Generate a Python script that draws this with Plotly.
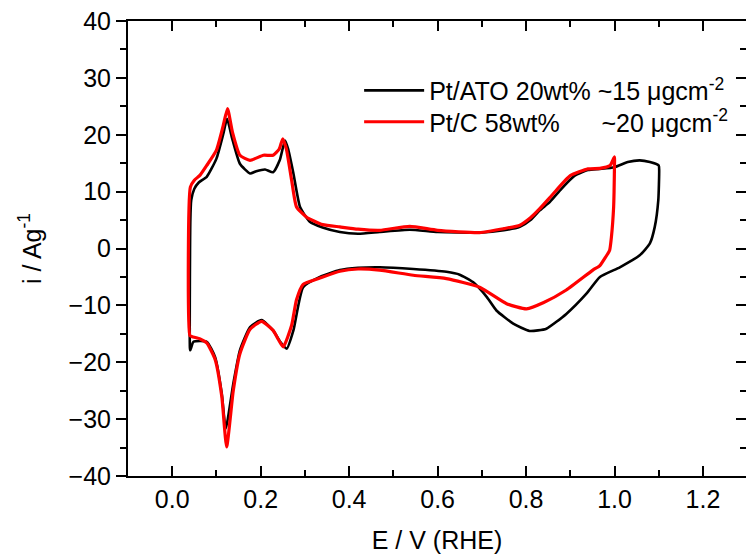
import plotly.graph_objects as go

# Cyclic voltammograms: potential E (V vs RHE) and mass-specific current i (A/g)
# Pt/ATO 20wt%: anodic sweep from 0.04 V to 1.1 V, then cathodic sweep back
ato_E = [0.040, 0.041, 0.043, 0.050, 0.060, 0.078, 0.100, 0.115, 0.124, 0.135,
         0.153, 0.176, 0.190, 0.210, 0.228, 0.243, 0.255, 0.262, 0.274, 0.289,
         0.311, 0.340, 0.379, 0.420, 0.469, 0.537, 0.600, 0.695, 0.750, 0.786,
         0.810, 0.831, 0.854, 0.880, 0.910, 0.940, 0.967, 1.000, 1.030, 1.057,
         1.080, 1.100,
         1.101, 1.099, 1.091, 1.080, 1.057, 1.012, 0.967, 0.937, 0.891, 0.846,
         0.808, 0.771, 0.733, 0.711, 0.680, 0.650, 0.620, 0.545, 0.469, 0.420,
         0.379, 0.334, 0.296, 0.274, 0.259, 0.245, 0.228, 0.202, 0.176, 0.153,
         0.138, 0.121, 0.112, 0.097, 0.078, 0.048, 0.041, 0.040]
ato_i = [-17.5, 5.0, 8.5, 10.5, 11.6, 12.6, 15.8, 20.0, 22.8, 19.5,
         14.9, 13.2, 13.6, 13.9, 13.4, 15.5, 19.0, 17.5, 13.2, 7.3,
         4.7, 3.7, 2.9, 2.6, 2.9, 3.3, 2.9, 2.8, 3.2, 3.8,
         5.0, 6.7, 8.2, 10.5, 12.8, 13.8, 14.0, 14.3, 15.2, 15.5,
         15.2, 14.6,
         13.7, 8.5, 3.8, 0.9, -1.2, -3.3, -5.0, -7.9, -11.5, -14.1,
         -14.5, -13.2, -10.9, -8.5, -5.9, -4.6, -4.1, -3.6, -3.3, -3.4,
         -3.8, -5.0, -6.8, -14.4, -17.6, -16.5, -14.4, -12.6, -13.8, -17.9,
         -23.8, -31.7, -25.5, -19.1, -16.4, -16.4, -17.9, -17.5]

# Pt/C 58wt%: anodic sweep from 0.04 V to 1.0 V, then cathodic sweep back
ptc_E = [0.040, 0.041, 0.050, 0.063, 0.078, 0.100, 0.115, 0.125, 0.136, 0.153,
         0.176, 0.206, 0.228, 0.242, 0.250, 0.258, 0.270, 0.281, 0.304, 0.340,
         0.379, 0.420, 0.469, 0.537, 0.600, 0.695, 0.750, 0.786, 0.810, 0.831,
         0.860, 0.900, 0.940, 0.967, 0.990, 1.000,
         1.000, 0.999, 0.998, 0.993, 0.989, 0.980, 0.967, 0.951, 0.891, 0.840,
         0.801, 0.756, 0.695, 0.620, 0.545, 0.469, 0.420, 0.379, 0.334, 0.296,
         0.281, 0.270, 0.251, 0.240, 0.228, 0.202, 0.176, 0.153, 0.138, 0.123,
         0.112, 0.097, 0.078, 0.063, 0.045, 0.040]
ptc_i = [-15.3, 10.8, 12.0, 12.9, 14.6, 17.3, 21.5, 24.6, 20.5, 16.4,
         15.5, 16.4, 16.4, 17.5, 19.3, 17.5, 12.0, 7.3, 5.5, 4.2,
         3.8, 3.4, 3.2, 3.9, 3.2, 2.8, 3.5, 4.1, 5.4, 7.0,
         9.5, 12.8, 14.0, 14.1, 14.6, 16.1,
         15.0, 10.0, 7.3, 2.0, -0.3, -1.5, -3.0, -3.8, -7.3, -9.5,
         -10.6, -9.7, -6.8, -5.3, -4.7, -3.8, -3.6, -4.0, -5.2, -6.3,
         -9.0, -13.5, -17.3, -16.0, -14.4, -12.8, -14.2, -18.5, -25.0, -34.9,
         -26.0, -19.5, -16.6, -15.9, -15.5, -15.3]

series_names = ["Pt/ATO 20wt% ~15 μgcm<sup>-2</sup>",
                "Pt/C 58wt%\u00a0\u00a0\u00a0\u00a0\u00a0\u00a0~20 μgcm<sup>-2</sup>"]

FONT = "Liberation Sans, Arial, sans-serif"

fig = go.Figure()
fig.add_trace(go.Scatter(x=ato_E, y=ato_i, mode="lines", name=series_names[0],
                         legend="legend",
                         line=dict(color="black", width=2.6, shape="spline", smoothing=0.5)))
fig.add_trace(go.Scatter(x=ptc_E, y=ptc_i, mode="lines", name=series_names[1],
                         legend="legend2",
                         line=dict(color="#ff0000", width=3.2, shape="spline", smoothing=0.5)))
# empty trace that anchors the right-hand tick axis
fig.add_trace(go.Scatter(x=[], y=[], yaxis="y2", showlegend=False, hoverinfo="skip"))

legend_style = dict(xanchor="left", yanchor="middle", itemwidth=60,
                    bgcolor="rgba(0,0,0,0)", font=dict(size=25))

fig.update_layout(
    width=746, height=556,
    margin=dict(l=128, r=0, t=21, b=80),
    paper_bgcolor="white", plot_bgcolor="white",
    font=dict(family=FONT, size=25, color="black"),
    showlegend=True,
    legend=dict(x=0.374, y=0.847, **legend_style),
    legend2=dict(x=0.374, y=0.778, **legend_style),
    xaxis=dict(range=[-0.1, 1.2973], tick0=0, dtick=0.2, tickformat=".1f",
               ticks="inside", ticklen=10, tickwidth=2, tickcolor="black",
               minor=dict(ticks="inside", ticklen=6, tickwidth=2, dtick=0.1, tick0=0,
                          tickcolor="black", showgrid=False),
               showline=True, linewidth=2, linecolor="black", mirror="ticks",
               showgrid=False, zeroline=False,
               title=dict(text="E / V (RHE)", font=dict(size=25), standoff=19)),
    yaxis=dict(range=[-40, 40], tick0=0, dtick=10,
               ticks="outside", ticklen=10, tickwidth=2, tickcolor="black",
               minor=dict(ticks="outside", ticklen=6, tickwidth=2, dtick=5, tick0=0,
                          tickcolor="black", showgrid=False),
               showline=True, linewidth=2, linecolor="black", mirror=False,
               showgrid=False, zeroline=False,
               title=dict(text="i / Ag<sup>-1</sup>", font=dict(size=25), standoff=20)),
    yaxis2=dict(range=[-40, 40], overlaying="y", side="right", tick0=0, dtick=10,
                ticks="inside", ticklen=10, tickwidth=2, tickcolor="black",
                minor=dict(ticks="inside", ticklen=6, tickwidth=2, dtick=5, tick0=0,
                           tickcolor="black", showgrid=False),
                showticklabels=False, showline=False, showgrid=False, zeroline=False),
)

fig.write_html("out.html")
